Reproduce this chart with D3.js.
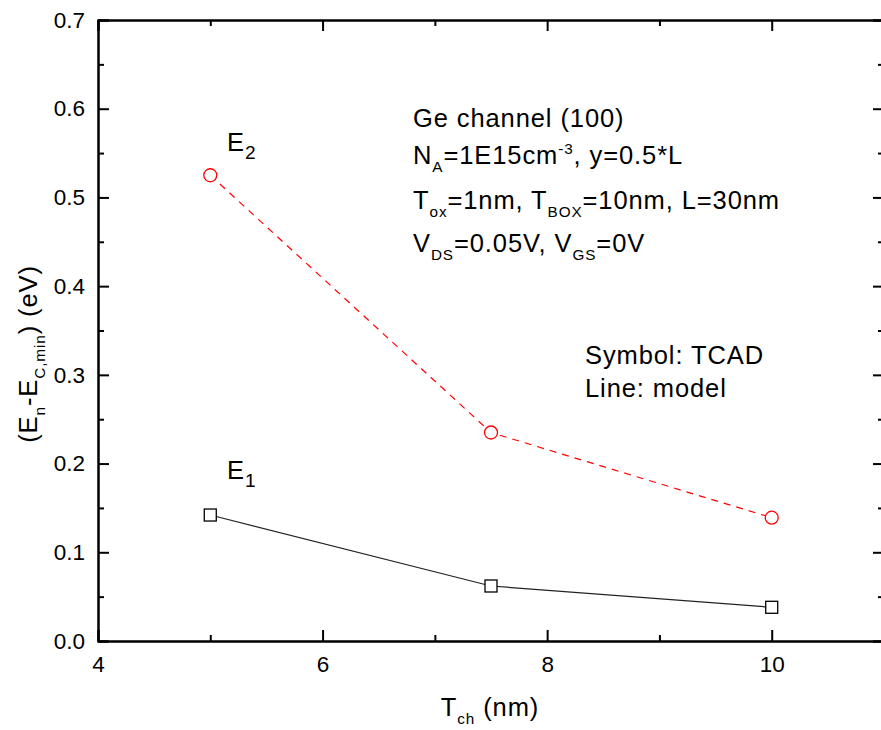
<!DOCTYPE html>
<html>
<head>
<meta charset="utf-8">
<script src="https://cdn.jsdelivr.net/npm/d3@7"></script>
<style>
  html, body { margin: 0; padding: 0; background: #fff; }
  svg { display: block; }
  text { font-family: "Liberation Sans", Arial, sans-serif; fill: #000; }
</style>
</head>
<body>
<svg id="chart" width="881" height="730"></svg>
<script>
// Channel thickness (nm)
const tch = [5, 7.5, 10];
// Subband energies relative to the conduction band minimum (eV)
const e1Tcad = [0.142, 0.062, 0.038];
const e2Tcad = [0.525, 0.235, 0.139];
const e1Model = [0.142, 0.062, 0.038];
const e2Model = [0.525, 0.235, 0.139];
// Axis ticks
const xMajor = [4, 6, 8, 10];
const xMinor = [5, 7, 9, 11];
const yMajor = [0.0, 0.1, 0.2, 0.3, 0.4, 0.5, 0.6, 0.7];
const yMinor = [0.05, 0.15, 0.25, 0.35, 0.45, 0.55, 0.65];

const svg = d3.select("#chart");
const plotL = 98, plotR = 884, plotT = 20, plotB = 641;

const x = d3.scaleLinear().domain([4, 11]).range([plotL, plotR]);
const y = d3.scaleLinear().domain([0, 0.7]).range([plotB, plotT]);

const fmtY = d3.format(".1f");
const fmtX = d3.format("d");

function styleAxis(g) {
  g.selectAll(".domain").attr("stroke", "#000").attr("stroke-width", 2);
  g.selectAll(".tick line").attr("stroke", "#000").attr("stroke-width", 2);
  g.selectAll(".tick text").attr("font-size", 22.5).attr("font-family", "Liberation Sans, Arial, sans-serif").attr("fill", "#000");
}

// Bottom axis
svg.append("g").attr("transform", `translate(0,${plotB})`)
  .call(d3.axisBottom(x).tickValues(xMajor).tickFormat(fmtX).tickSize(-11).tickPadding(15))
  .call(styleAxis);
svg.append("g").attr("transform", `translate(0,${plotB})`)
  .call(d3.axisBottom(x).tickValues(xMinor).tickFormat("").tickSize(-6).tickSizeOuter(0))
  .call(styleAxis);
// Top axis
svg.append("g").attr("transform", `translate(0,${plotT})`)
  .call(d3.axisTop(x).tickValues(xMajor).tickFormat("").tickSize(-11))
  .call(styleAxis);
svg.append("g").attr("transform", `translate(0,${plotT})`)
  .call(d3.axisTop(x).tickValues(xMinor).tickFormat("").tickSize(-6).tickSizeOuter(0))
  .call(styleAxis);
// Left axis
svg.append("g").attr("transform", `translate(${plotL},0)`)
  .call(d3.axisLeft(y).tickValues(yMajor).tickFormat(fmtY).tickSize(-11).tickPadding(13))
  .call(styleAxis);
svg.append("g").attr("transform", `translate(${plotL},0)`)
  .call(d3.axisLeft(y).tickValues(yMinor).tickFormat("").tickSize(-6).tickSizeOuter(0))
  .call(styleAxis);
// Right axis
svg.append("g").attr("transform", `translate(${plotR},0)`)
  .call(d3.axisRight(y).tickValues(yMajor).tickFormat("").tickSize(-11))
  .call(styleAxis);
svg.append("g").attr("transform", `translate(${plotR},0)`)
  .call(d3.axisRight(y).tickValues(yMinor).tickFormat("").tickSize(-6).tickSizeOuter(0))
  .call(styleAxis);

// Model lines
const line = d3.line().x(d => x(d[0])).y(d => y(d[1]));
svg.append("path")
  .datum(tch.map((t, i) => [t, e1Model[i]]))
  .attr("d", line).attr("fill", "none").attr("stroke", "#222").attr("stroke-width", 1.2);
svg.append("path")
  .datum(tch.map((t, i) => [t, e2Model[i]]))
  .attr("d", line).attr("fill", "none").attr("stroke", "#f00").attr("stroke-width", 1.2)
  .attr("stroke-dasharray", "7,6");

// TCAD symbols
svg.selectAll(".sq").data(tch.map((t, i) => [t, e1Tcad[i]])).enter()
  .append("rect")
  .attr("x", d => x(d[0]) - 6).attr("y", d => y(d[1]) - 6)
  .attr("width", 12).attr("height", 12)
  .attr("fill", "#fff").attr("stroke", "#000").attr("stroke-width", 1.3);
svg.selectAll(".ci").data(tch.map((t, i) => [t, e2Tcad[i]])).enter()
  .append("circle")
  .attr("cx", d => x(d[0])).attr("cy", d => y(d[1])).attr("r", 6.5)
  .attr("fill", "#fff").attr("stroke", "#f00").attr("stroke-width", 1.3);

// Text with sub/superscripts: parts = [[text, kind]] kind: n, sub, sup
function rich(g, xPos, yPos, parts, size, anchor) {
  const t = g.append("text").attr("x", xPos).attr("y", yPos)
    .attr("font-size", size).attr("text-anchor", anchor || "start");
  let shift = 0;
  parts.forEach(([s, k]) => {
    let target = 0, fs = size;
    if (k === "sub") { target = size * 0.33; fs = size * 0.6; }
    if (k === "sub2") { target = size * 0.3; fs = size * 0.75; }
    if (k === "sup") { target = -size * 0.4; fs = size * 0.6; }
    t.append("tspan").attr("dy", target - shift).attr("font-size", fs).text(s);
    shift = target;
  });
  return t;
}

const fs = 25.5;
const ann = svg.append("g").attr("letter-spacing", "0.9px");
rich(ann, 413, 127, [["Ge channel (100)", "n"]], fs);
rich(ann, 413, 164, [["N", "n"], ["A", "sub"], ["=1E15cm", "n"], ["-3", "sup"], [", y=0.5*L", "n"]], fs);
rich(ann, 413, 209, [["T", "n"], ["ox", "sub"], ["=1nm, T", "n"], ["BOX", "sub"], ["=10nm, L=30nm", "n"]], fs);
rich(ann, 413, 252, [["V", "n"], ["DS", "sub"], ["=0.05V, V", "n"], ["GS", "sub"], ["=0V", "n"]], fs);
rich(ann, 585, 364, [["Symbol: TCAD", "n"]], fs);
rich(ann, 585, 397, [["Line: model", "n"]], fs);

rich(ann, 227, 151, [["E", "n"], ["2", "sub2"]], fs);
rich(ann, 227, 479, [["E", "n"], ["1", "sub2"]], fs);

// Axis titles
const titles = svg.append("g").attr("letter-spacing", "0.9px");
rich(titles, 490, 716, [["T", "n"], ["ch", "sub"], [" (nm)", "n"]], fs, "middle");
const yt = titles.append("g").attr("transform", "translate(37,354) rotate(-90)");
rich(yt, 0, 0, [["(E", "n"], ["n", "sub"], ["-E", "n"], ["C,min", "sub"], [") (eV)", "n"]], fs, "middle");
</script>
</body>
</html>
